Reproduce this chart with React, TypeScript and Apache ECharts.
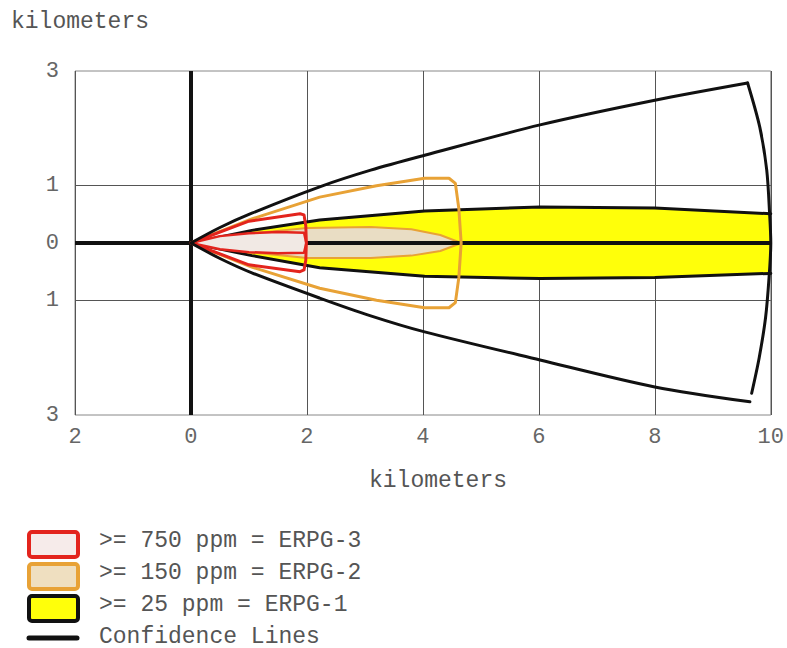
import React, { useEffect, useRef } from "react";
import * as echarts from "echarts";

// ---- data (kilometers) ----
const xTicks = [-2, 0, 2, 4, 6, 8, 10];
const yTickLabels = [-3, -1, 0, 1, 3];

// confidence lines (outer envelope)
const confTop = [[0, 0], [0.5, 0.27], [1.05, 0.52], [2.22, 0.98], [3.1, 1.27], [4.03, 1.53], [6.02, 2.06], [8.0, 2.49], [9.6, 2.79]];
const confBottom = [[0, 0], [0.5, -0.27], [1.05, -0.52], [2.22, -0.96], [3.1, -1.27], [4.03, -1.55], [6.02, -2.04], [8.0, -2.51], [9.64, -2.77]];
const confArc = [[9.6, 2.79], [9.81, 2.02], [9.93, 1.27], [9.98, 0.5], [10.0, 0], [9.97, -0.6], [9.91, -1.3], [9.8, -2.0], [9.67, -2.62]];

// ERPG-1 footprint (yellow)
const erpg1Top = [[0, 0], [1.05, 0.22], [2.22, 0.4], [4.03, 0.56], [6.02, 0.63], [8.0, 0.61], [10, 0.51]];
const erpg1Bottom = [[0, 0], [1.05, -0.22], [2.22, -0.43], [4.03, -0.58], [6.02, -0.62], [8.0, -0.6], [10, -0.53]];

// ERPG-2 confidence envelope (orange) and footprint
const erpg2Conf = [[0, 0], [1.05, 0.42], [2.22, 0.8], [3.2, 1.0], [4.03, 1.13], [4.45, 1.13], [4.56, 1.04], [4.62, 0.6], [4.66, 0], [4.62, -0.6], [4.56, -1.04], [4.45, -1.13], [4.03, -1.13], [3.2, -1.0], [2.22, -0.79], [1.05, -0.42], [0, 0]];
const erpg2Foot = [[0, 0], [1.0, 0.16], [2.0, 0.26], [3.1, 0.28], [3.8, 0.24], [4.3, 0.14], [4.66, 0], [4.3, -0.14], [3.8, -0.22], [3.1, -0.26], [2.0, -0.26], [1.0, -0.16], [0, 0]];

// ERPG-3 confidence envelope (red) and footprint
const erpg3Conf = [[0, 0], [1.0, 0.38], [1.88, 0.51], [1.95, 0.49], [1.98, 0.3], [1.99, 0], [1.98, -0.3], [1.95, -0.47], [1.88, -0.5], [1.0, -0.38], [0, 0]];
const erpg3Foot = [[0, 0], [0.5, 0.12], [1.0, 0.17], [1.5, 0.19], [1.95, 0.18], [1.99, 0], [1.95, -0.17], [1.5, -0.18], [1.0, -0.16], [0.5, -0.11], [0, 0]];

const legendLabels = [">= 750 ppm = ERPG-3", ">= 150 ppm = ERPG-2", ">= 25 ppm = ERPG-1", "Confidence Lines"];

const FONT = '"Liberation Mono", "Courier New", monospace';
const RED = "#e3241d";
const ORANGE = "#e8a236";
const YELLOW = "#ffff0a";
const BLACK = "#111111";

function polygonSeries(name: string, pts: number[][], fill: string, stroke: string, lw: number, z: number) {
  return {
    type: "custom",
    name,
    coordinateSystem: "cartesian2d",
    silent: true,
    z,
    data: [[0, 0]],
    renderItem: (_p: any, api: any) => ({
      type: "polygon",
      shape: { points: pts.map((p) => api.coord(p)) },
      style: { fill, stroke, lineWidth: lw, lineJoin: "round" },
    }),
  };
}

function lineSeries(name: string, pts: number[][], color: string, width: number, z: number, smooth: number | boolean = false) {
  return {
    type: "line",
    name,
    data: pts,
    symbol: "none",
    silent: true,
    smooth,
    z,
    lineStyle: { color, width, join: "round", cap: "round" },
  };
}

export default function App() {
  const ref = useRef<HTMLDivElement>(null);
  useEffect(() => {
    if (!ref.current) return;
    const chart = echarts.init(ref.current, null, { renderer: "svg" });
    const legendTop = [530, 562, 594];
    const legendFill = ["#f6ebea", "#efdfc0", YELLOW];
    const legendStroke = [RED, ORANGE, BLACK];
    const legendGraphics: any[] = [];
    legendTop.forEach((t, i) => {
      legendGraphics.push({
        type: "rect",
        left: 27,
        top: t,
        shape: { width: 49, height: 25, r: 3 },
        style: { fill: legendFill[i], stroke: legendStroke[i], lineWidth: 4 },
      });
    });
    legendGraphics.push({
      type: "line",
      shape: { x1: 29, y1: 638, x2: 77, y2: 638 },
      style: { stroke: BLACK, lineWidth: 5, lineCap: "round" },
    });
    legendLabels.forEach((l, i) => {
      legendGraphics.push({
        type: "text",
        left: 99,
        top: 529 + i * 32,
        style: { text: l, font: `23px ${FONT}`, fill: "#555" },
      });
    });

    chart.setOption({
      animation: false,
      backgroundColor: "#fff",
      grid: { left: 75, right: 16, top: 71, bottom: 233, show: true, borderColor: "#888", borderWidth: 1 },
      xAxis: {
        type: "value",
        min: xTicks[0],
        max: xTicks[xTicks.length - 1],
        interval: 2,
        axisLine: { show: false },
        axisTick: { show: false },
        axisLabel: {
          margin: 11,
          fontFamily: FONT,
          fontSize: 22,
          color: "#666",
          formatter: (v: number) => String(Math.abs(v)),
        },
        splitLine: { show: true, lineStyle: { color: "#555", width: 1 } },
      },
      yAxis: {
        type: "value",
        min: -3,
        max: 3,
        interval: 1,
        axisLine: { show: false },
        axisTick: { show: false },
        axisLabel: {
          margin: 16,
          fontFamily: FONT,
          fontSize: 22,
          color: "#666",
          formatter: (v: number) => (yTickLabels.includes(v) ? String(Math.abs(v)) : ""),
        },
        splitLine: {
          show: true,
          lineStyle: {
            color: ["transparent", "transparent", "#555", "transparent", "#555", "transparent", "transparent"],
            width: 1,
          },
        },
      },
      graphic: [
        { type: "text", left: 11, top: 10, style: { text: "kilometers", font: `23px ${FONT}`, fill: "#555" } },
        { type: "text", left: 369, top: 469, style: { text: "kilometers", font: `23px ${FONT}`, fill: "#555" } },
        ...legendGraphics,
      ],
      series: [
        polygonSeries("ERPG-1", [...erpg1Top, ...erpg1Bottom.slice().reverse()], YELLOW, "none", 0, 2),
        polygonSeries("ERPG-2 footprint", erpg2Foot, "#e9ddc4", ORANGE, 2, 4),
        polygonSeries("ERPG-3 footprint", erpg3Foot, "#f1e9e4", RED, 2.5, 6),
        lineSeries("ERPG-1 top", erpg1Top, BLACK, 3, 3),
        lineSeries("ERPG-1 bottom", erpg1Bottom, BLACK, 3, 3),
        lineSeries("ERPG-2 conf", erpg2Conf, ORANGE, 3, 5),
        lineSeries("ERPG-3 conf", erpg3Conf, RED, 3, 7),
        lineSeries("Conf top", confTop, BLACK, 3, 8, 0.3),
        lineSeries("Conf bottom", confBottom, BLACK, 3, 8, 0.3),
        {
          ...lineSeries("Conf arc", confArc, BLACK, 3, 8, 0.3),
          markLine: {
            silent: true,
            symbol: "none",
            label: { show: false },
            lineStyle: { color: BLACK, width: 4, type: "solid" },
            data: [{ yAxis: 0 }, { xAxis: 0 }],
          },
        },
      ],
    });
    return () => chart.dispose();
  }, []);
  return <div ref={ref} style={{ position: "fixed", left: 0, top: 0, width: 787, height: 648 }} />;
}
